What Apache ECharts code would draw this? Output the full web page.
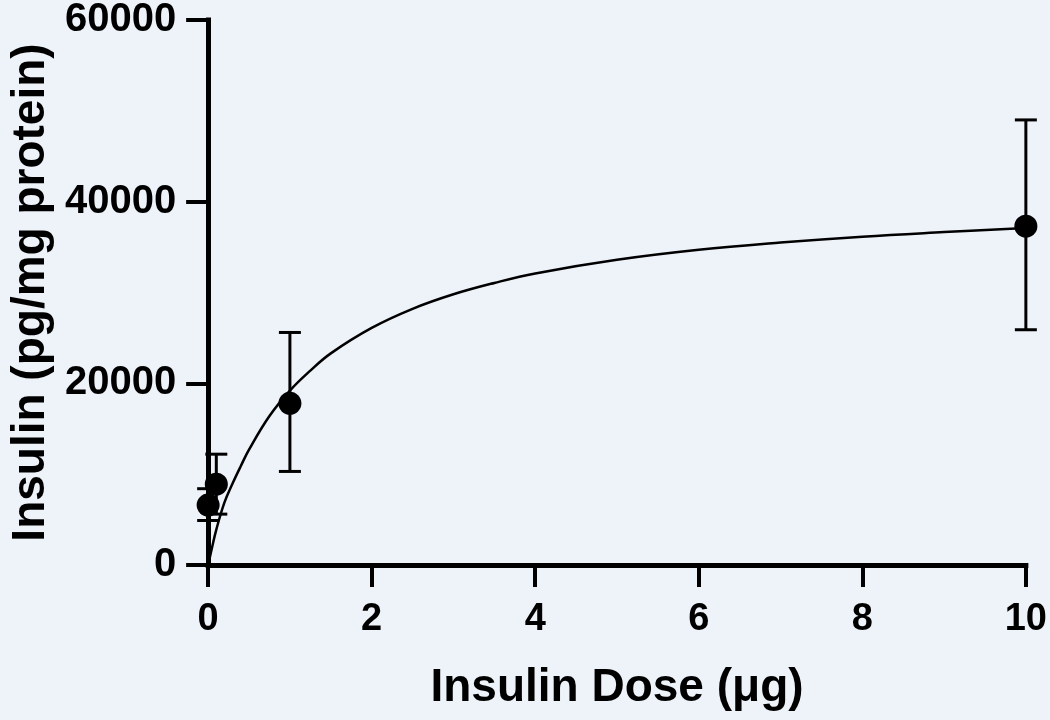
<!DOCTYPE html>
<html>
<head>
<meta charset="utf-8">
<style>
  html, body { margin: 0; padding: 0; background: #eef2f9; }
  #chart { width: 1050px; height: 720px; }
</style>
<script src="https://cdn.jsdelivr.net/npm/echarts@6/dist/echarts.min.js"></script>
</head>
<body>
<div id="chart"></div>
<script>
const doseValues   = [0, 0.1, 1, 10];
const insulinMeans = [6600, 8900, 17800, 37300];
const errorLow     = [4900, 5600, 10300, 25900];
const errorHigh    = [8400, 12200, 25600, 49000];

// Fitted curve
const fitDose    = [0, 0.05, 0.1, 0.2, 0.3, 0.4, 0.5, 0.75, 1, 1.25, 1.5, 2, 2.5, 3, 3.5, 4, 5, 6, 7, 8, 9, 10];
const fitInsulin = [0, 2000, 3900, 6900, 9000, 10900, 12700, 16400, 19200, 21400, 23300, 26100, 28200, 29800, 31050, 32100, 33600, 34700, 35500, 36150, 36650, 37100];

const xTitle = 'Insulin Dose (μg)';
const yTitle = 'Insulin (pg/mg protein)';

const FONT = '"Liberation Sans", Arial, Helvetica, sans-serif';

const chart = echarts.init(document.getElementById('chart'), null, { renderer: 'canvas' });

const pointData = doseValues.map((d, i) => [d, insulinMeans[i]]);
const errData = doseValues.map((d, i) => [d, errorLow[i], errorHigh[i]]);
const fitData = fitDose.map((d, i) => [d, fitInsulin[i]]);

const axisCommon = {
  axisLine: { show: true, onZero: false, lineStyle: { color: '#000', width: 5, cap: 'square' } },
  axisTick: { show: true, inside: false, length: 22, lineStyle: { color: '#000', width: 4 } },
  splitLine: { show: false },
  nameTextStyle: { color: '#000', fontFamily: FONT, fontWeight: 'bold', fontSize: 46 }
};

const labelFmt = v => String(v);

chart.setOption({
  animation: false,
  backgroundColor: '#eef2f9',
  grid: { left: 202, right: 22, top: 13, bottom: 155, containLabel: false },
  xAxis: Object.assign({}, axisCommon, {
    type: 'value', min: 0, max: 10, interval: 2,
    name: xTitle, nameLocation: 'middle', nameGap: 100,
    axisLabel: { color: '#000', fontFamily: FONT, fontWeight: 'bold', fontSize: 38, margin: 36, formatter: labelFmt }
  }),
  yAxis: Object.assign({}, axisCommon, {
    type: 'value', min: 0, max: 60000, interval: 20000,
    name: yTitle, nameLocation: 'middle', nameGap: 152,
    axisLabel: { color: '#000', fontFamily: FONT, fontWeight: 'bold', fontSize: 40, margin: 32, formatter: labelFmt }
  }),
  series: [
    {
      type: 'line', data: fitData, smooth: 0.4, symbol: 'none',
      lineStyle: { color: '#000', width: 2.5 }, z: 2, clip: false
    },
    {
      type: 'custom', data: errData, clip: false, z: 3,
      renderItem: function (params, api) {
        const x = api.value(0);
        const lo = api.coord([x, api.value(1)]);
        const hi = api.coord([x, api.value(2)]);
        const hw = 11;
        const st = { stroke: '#000', lineWidth: 3 };
        return {
          type: 'group',
          children: [
            { type: 'line', shape: { x1: lo[0], y1: lo[1], x2: hi[0], y2: hi[1] }, style: st },
            { type: 'line', shape: { x1: lo[0] - hw, y1: lo[1], x2: lo[0] + hw, y2: lo[1] }, style: st },
            { type: 'line', shape: { x1: hi[0] - hw, y1: hi[1], x2: hi[0] + hw, y2: hi[1] }, style: st }
          ]
        };
      }
    },
    {
      type: 'scatter', data: pointData, symbol: 'circle', symbolSize: 23,
      itemStyle: { color: '#000', opacity: 1 }, z: 4, clip: false
    }
  ]
});
</script>
</body>
</html>
